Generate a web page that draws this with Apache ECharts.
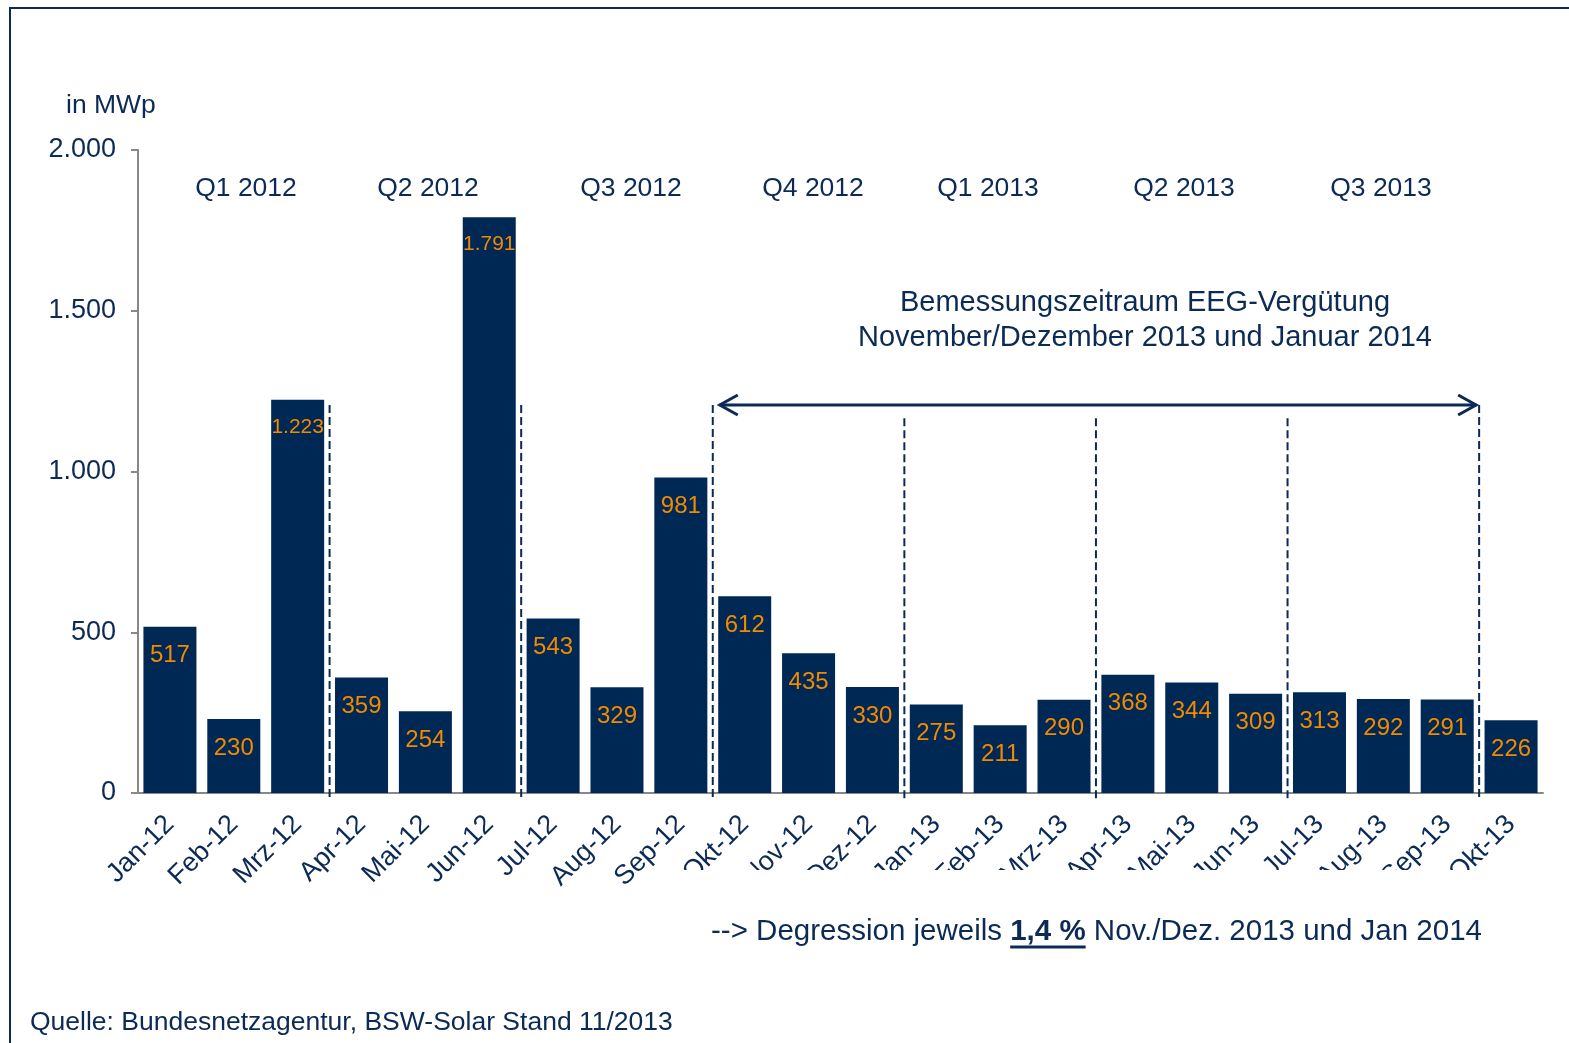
<!DOCTYPE html>
<html>
<head>
<meta charset="utf-8">
<script src="https://cdn.jsdelivr.net/npm/echarts@6/dist/echarts.min.js"></script>
<style>
  html, body { margin: 0; padding: 0; background: #fff; }
  #chart { width: 1569px; height: 1043px; }
</style>
</head>
<body>
<div id="chart"></div>
<script>
// Zubau PV in MWp je Monat
var months = ['Jan-12', 'Feb-12', 'Mrz-12', 'Apr-12', 'Mai-12', 'Jun-12', 'Jul-12', 'Aug-12', 'Sep-12',
  'Okt-12', 'Nov-12', 'Dez-12', 'Jan-13', 'Feb-13', 'Mrz-13', 'Apr-13', 'Mai-13', 'Jun-13',
  'Jul-13', 'Aug-13', 'Sep-13', 'Okt-13'];
var zubau = [517, 230, 1223, 359, 254, 1791, 543, 329, 981, 612, 435, 330, 275, 211, 290, 368, 344, 309,
  313, 292, 291, 226];
var quarters = ['Q1 2012', 'Q2 2012', 'Q3 2012', 'Q4 2012', 'Q1 2013', 'Q2 2013', 'Q3 2013'];
// trennlinien: index des ersten monats nach der linie, oberes ende in MWp
var dividerIdx = [3, 6, 9, 12, 15, 18, 21];
var dividerTop = [1207, 1207, 1207, 1166, 1166, 1166, 1207];
// pfeil Bemessungszeitraum: von grenze, bis grenze, hoehe
var arrowSpan = [[9, 21, 1207]];

var navy = '#0b2a55';
var barColor = '#002855';
var orange = '#f08a00';
var font = 'Liberation Sans, Arial, sans-serif';

function boundaryX(api, idx) {
    var a = api.coord([idx - 1, 0])[0];
    var b = api.coord([idx, 0])[0];
    return (a + b) / 2;
}

function fmt(v) {
    return String(v).replace(/\B(?=(\d{3})+(?!\d))/g, '.');
}

// breite von text fuer die unterstreichung
var ctx = document.createElement('canvas').getContext('2d');
function textW(txt, f) {
    ctx.font = f;
    return ctx.measureText(txt).width;
}

var noteLeft = 711;
var notePre = '--> Degression jeweils ';
var noteBold = '1,4 %';
var noteFont = '29.5px ' + font;
var ulStart = noteLeft + textW(notePre, noteFont);
var ulEnd = ulStart + textW(noteBold, 'bold ' + noteFont);

var chart = echarts.init(document.getElementById('chart'));

function qText(i, x) {
    return { type: 'text', z: 101, x: x, y: 189,
        style: { text: quarters[i], fill: navy, font: '26.5px ' + font, align: 'center', verticalAlign: 'middle' } };
}

var option = {
    animation: false,
    backgroundColor: '#fff',
    textStyle: { fontFamily: font },
    grid: { left: 138, right: 26, top: 150, bottom: 250, containLabel: false },
    xAxis: {
        type: 'category',
        data: months,
        axisLine: { lineStyle: { color: '#888', width: 2 } },
        axisTick: { alignWithLabel: false, length: 8, lineStyle: { color: '#888', width: 2 } },
        axisLabel: { rotate: 45, margin: 27, color: navy, fontSize: 27, interval: 0, fontFamily: font }
    },
    yAxis: {
        type: 'value',
        min: 0, max: 2000, interval: 500,
        splitLine: { show: false },
        axisLine: { show: true, lineStyle: { color: '#888', width: 2 } },
        axisTick: { show: true, length: 7, lineStyle: { color: '#888', width: 2 } },
        axisLabel: { color: navy, fontSize: 27, margin: 22, formatter: fmt, fontFamily: font }
    },
    series: [
        {
            type: 'bar',
            data: zubau,
            barCategoryGap: '17%',
            itemStyle: { color: barColor },
            label: {
                show: true,
                position: 'insideTop',
                distance: 17,
                color: orange,
                fontSize: 24,
                fontFamily: font,
                formatter: function (p) {
                    return p.value >= 1000 ? '{s|' + fmt(p.value) + '}' : fmt(p.value);
                },
                rich: { s: { fontSize: 21, color: orange, fontFamily: font } }
            },
            z: 2
        },
        {
            type: 'custom',
            clip: false,
            z: 5,
            data: dividerIdx.map(function (d, i) { return [d, dividerTop[i]]; }),
            renderItem: function (params, api) {
                var x = boundaryX(api, api.value(0));
                var yTop = api.coord([0, api.value(1)])[1];
                var yBot = api.coord([0, 0])[1] + 7;
                return {
                    type: 'line',
                    shape: { x1: x, y1: yTop, x2: x, y2: yBot },
                    style: { stroke: navy, lineWidth: 2, lineDash: [8, 4] }
                };
            }
        },
        {
            type: 'custom',
            clip: false,
            z: 6,
            data: arrowSpan,
            renderItem: function (params, api) {
                var x1 = boundaryX(api, api.value(0)) + 7;
                var x2 = boundaryX(api, api.value(1)) - 3;
                var y = api.coord([0, api.value(2)])[1];
                var st = { stroke: navy, lineWidth: 3, fill: null };
                return {
                    type: 'group',
                    children: [
                        { type: 'line', shape: { x1: x1, y1: y, x2: x2, y2: y }, style: st },
                        { type: 'polyline', shape: { points: [[x1 + 18, y - 10], [x1, y], [x1 + 18, y + 10]] }, style: st },
                        { type: 'polyline', shape: { points: [[x2 - 18, y - 10], [x2, y], [x2 - 18, y + 10]] }, style: st }
                    ]
                };
            }
        }
    ],
    graphic: [
        // rahmen
        { type: 'polyline', z: 100, shape: { points: [[10, 1043], [10, 8], [1569, 8]] },
          style: { stroke: navy, lineWidth: 2, fill: null } },
        // abgeschnittene achsenbeschriftung wie im original
        { type: 'rect', z: 100, shape: { x: 684, y: 870, width: 880, height: 38 }, style: { fill: '#fff' } },
        { type: 'text', z: 101, left: 66, top: 92,
          style: { text: 'in MWp', fill: navy, font: '26.5px ' + font } },
        qText(0, 246), qText(1, 428), qText(2, 631), qText(3, 813),
        qText(4, 988), qText(5, 1184), qText(6, 1381),
        { type: 'text', z: 101, x: 1145, y: 320,
          style: { text: 'Bemessungszeitraum EEG-Vergütung\nNovember/Dezember 2013 und Januar 2014',
                   fill: navy, font: '29px ' + font, align: 'center', verticalAlign: 'middle', lineHeight: 35 } },
        { type: 'text', z: 101, x: noteLeft, y: 932,
          style: {
              text: '{n|' + notePre + '}{b|' + noteBold + '}{n| Nov./Dez. 2013 und Jan 2014}',
              verticalAlign: 'middle',
              rich: {
                  n: { fill: navy, font: noteFont },
                  b: { fill: navy, font: 'bold ' + noteFont }
              }
          } },
        { type: 'line', z: 101, shape: { x1: ulStart, y1: 947, x2: ulEnd, y2: 947 }, style: { stroke: navy, lineWidth: 3 } },
        { type: 'text', z: 101, left: 30, top: 1009,
          style: { text: 'Quelle: Bundesnetzagentur, BSW-Solar Stand 11/2013', fill: navy, font: '26.5px ' + font } }
    ]
};

chart.setOption(option);
</script>
</body>
</html>
